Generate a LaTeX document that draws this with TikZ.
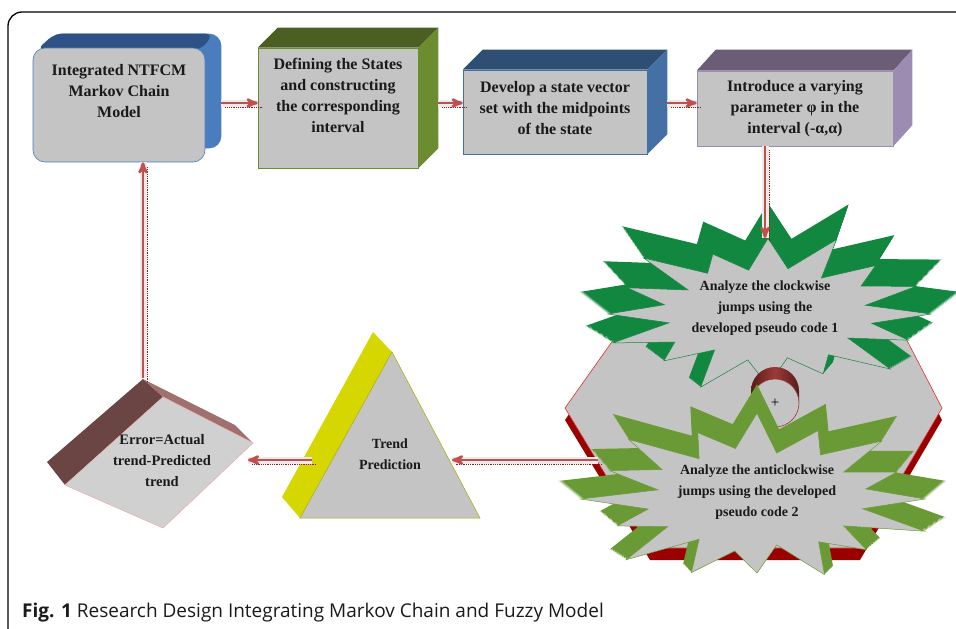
\documentclass[tikz,border=0pt]{standalone}
\usepackage{fontspec}
\setmainfont{Liberation Serif}
\newfontfamily\capfont{Open Sans}
\usepackage{tikz}
\usetikzlibrary{arrows}
\usetikzlibrary{positioning}
\usetikzlibrary{backgrounds}

\definecolor{facegray}{HTML}{C4C4C4}
\definecolor{inkblack}{HTML}{1A1A1A}
\definecolor{flowred}{HTML}{C0504D}
\definecolor{shadowred}{HTML}{8B1A1A}
\definecolor{glowgray}{HTML}{EBEBEB}
\definecolor{ntfcmtop}{HTML}{2E5186}
\definecolor{ntfcmside}{HTML}{4A7DBD}
\definecolor{statetop}{HTML}{4B5F22}
\definecolor{stateside}{HTML}{6B8C2F}
\definecolor{vectortop}{HTML}{2F4E73}
\definecolor{vectorside}{HTML}{4570A6}
\definecolor{paramtop}{HTML}{6B5D75}
\definecolor{paramside}{HTML}{9D8CB2}
\definecolor{cwgreen}{HTML}{12873F}
\definecolor{acwgreen}{HTML}{6A9A35}
\definecolor{hexred}{HTML}{E03030}
\definecolor{hexdark}{HTML}{9B0000}
\definecolor{cyldark}{HTML}{5C1A1A}
\definecolor{cylmid}{HTML}{9A3A3A}
\definecolor{triyellow}{HTML}{D6D600}
\definecolor{errband}{HTML}{6B4444}
\definecolor{errtop}{HTML}{A07070}
\definecolor{errface}{HTML}{D0D0D0}
\definecolor{errline}{HTML}{E8B0B0}

% star outlines: angle/radius factor
\def\cwburst{0/1.02, 11.25/0.66, 22.5/0.95, 33.75/0.6, 45/1.08, 56.25/0.68, 67.5/0.9, 78.75/0.62, 90/1.0, 101.25/0.65, 112.5/1.1, 123.75/0.6, 135/0.92, 146.25/0.7, 157.5/1.05, 168.75/0.63, 180/1.0, 191.25/0.66, 202.5/0.95, 213.75/0.6, 225/1.1, 236.25/0.68, 247.5/0.9, 258.75/0.62, 270/1.05, 281.25/0.64, 292.5/1.12, 303.75/0.6, 315/0.95, 326.25/0.7, 337.5/1.0, 348.75/0.62}
\def\acwburst{0/1.0, 11.25/0.64, 22.5/1.08, 33.75/0.62, 45/0.92, 56.25/0.66, 67.5/1.05, 78.75/0.6, 90/0.95, 101.25/0.68, 112.5/1.02, 123.75/0.62, 135/1.1, 146.25/0.64, 157.5/0.9, 168.75/0.66, 180/1.05, 191.25/0.6, 202.5/0.95, 213.75/0.68, 225/1.08, 236.25/0.62, 247.5/0.92, 258.75/0.66, 270/1.1, 281.25/0.6, 292.5/0.95, 303.75/0.68, 315/1.05, 326.25/0.62, 337.5/0.9, 348.75/0.66}

\tikzset{
	face/.style={draw=#1, fill=facegray, line width=0.6pt, inner sep=0pt},
	boxtext/.style={align=center, font=\bfseries\fontsize{16}{21}\selectfont, text=inkblack, inner sep=1pt},
	shapetext/.style={align=center, font=\bfseries\fontsize{14}{21}\selectfont, text=inkblack, inner sep=1pt},
	flow/.style={->, draw=flowred, line width=2.6pt,
		preaction={draw=glowgray, line width=7pt, -},
		preaction={draw=shadowred, densely dotted, line width=0.8pt, -, transform canvas={shift={(4pt,-4pt)}}}},
}

\begin{document}
\begin{tikzpicture}[x=1pt,y=-1pt,>=stealth']
	\useasboundingbox (0,0) rectangle (956,629);
	\draw[line width=1.3pt, rounded corners=14pt] (975,12) -- (8,12) -- (8,650);

	% top row of boxes
	\node[face=ntfcmside, rounded corners=12pt, minimum width=172, minimum height=114] (ntfcm) at (119,105) {};
	\begin{scope}[on background layer]
		\fill[ntfcmside, rounded corners=12pt] ([shift={(16,-14)}]ntfcm.north west) rectangle ([shift={(16,-14)}]ntfcm.south east);
		\fill[ntfcmtop, rounded corners=8pt] ([xshift=4pt,yshift=-2pt]ntfcm.north west) -- ([shift={(22,-14)}]ntfcm.north west) -- ([shift={(8,-14)}]ntfcm.north east) -- ([xshift=-4pt,yshift=-2pt]ntfcm.north east) -- cycle;
	\end{scope}
	\node[boxtext, below=15pt of ntfcm.north] (ntfcmtext) {Integrated NTFCM\\Markov Chain\\Model};

	\node[face=stateside, minimum width=160, minimum height=120] (states) at (338,108) {};
	\fill[statetop] (states.north west) -- ([shift={(20,-20)}]states.north west) -- ([shift={(20,-20)}]states.north east) -- (states.north east) -- cycle;
	\fill[stateside] (states.north east) -- ([shift={(20,-20)}]states.north east) -- ([shift={(20,-20)}]states.south east) -- (states.south east) -- cycle;
	\node[boxtext, below=9pt of states.north] (statestext) {Defining the States\\and constructing\\the corresponding\\interval};

	\node[face=vectorside, minimum width=184, minimum height=84] (vector) at (555,112) {};
	\fill[vectortop] (vector.north west) -- ([shift={(20,-20)}]vector.north west) -- ([shift={(20,-20)}]vector.north east) -- (vector.north east) -- cycle;
	\fill[vectorside] (vector.north east) -- ([shift={(20,-20)}]vector.north east) -- ([shift={(20,-20)}]vector.south east) -- (vector.south east) -- cycle;
	\node[boxtext, below=10pt of vector.north] (vectortext) {Develop a state vector\\set with the midpoints\\of the state};

	\node[face=paramside, minimum width=196, minimum height=75] (param) at (795,108.5) {};
	\fill[paramtop] (param.north west) -- ([shift={(19,-21)}]param.north west) -- ([shift={(19,-21)}]param.north east) -- (param.north east) -- cycle;
	\fill[paramside] (param.north east) -- ([shift={(19,-21)}]param.north east) -- ([shift={(19,-21)}]param.south east) -- (param.south east) -- cycle;
	\node[boxtext, below=8pt of param.north] (paramtext) {Introduce a varying\\parameter φ in the\\interval (-α,α)};

	% hexagon behind the two stars
	\fill[hexdark] (565,420) -- (643,310) -- (885,310) -- (942,420) -- (860,560) -- (650,560) -- cycle;
	\filldraw[fill=facegray, draw=hexred, line width=0.6pt] (565,408) -- (643,298) -- (885,298) -- (942,408) -- (860,548) -- (650,548) -- cycle;

	% clockwise star
	\coordinate (cwc) at (768,314);
	\foreach \d in {22,21,...,1}
		\fill[cwgreen, shift={(cwc)}, yshift=\d pt, scale={1+0.008*\d}]
			(163.2,0) \foreach \a/\f in \cwburst {-- ({160*\f*cos(\a)},{72*\f*sin(\a)})} -- cycle;
	\filldraw[fill=facegray, draw=cwgreen, line width=0.5pt, shift={(cwc)}]
		(163.2,0) \foreach \a/\f in \cwburst {-- ({160*\f*cos(\a)},{72*\f*sin(\a)})} -- cycle;

	% summing junction
	\shade[left color=cyldark, right color=cyldark, middle color=cylmid] (751,403) -- (751,391) arc (180:360:24) -- (799,403) -- cycle;
	\node[circle, fill=facegray, draw=cylmid, line width=0.6pt, minimum size=48, inner sep=0pt, font=\fontsize{15}{15}\selectfont] (sum) at (775,403) {+};

	% anticlockwise star
	\coordinate (acwc) at (757,499);
	\foreach \d in {18,17,...,1}
		\fill[acwgreen, shift={(acwc)}, yshift=\d pt, scale={1+0.007*\d}]
			(168,0) \foreach \a/\f in \acwburst {-- ({168*\f*cos(\a)},{78*\f*sin(\a)})} -- cycle;
	\filldraw[fill=facegray, draw=acwgreen, line width=0.5pt, shift={(acwc)}]
		(168,0) \foreach \a/\f in \acwburst {-- ({168*\f*cos(\a)},{78*\f*sin(\a)})} -- cycle;

	\node[shapetext] (cw) at (765,308) {Analyze the clockwise\\jumps using the\\developed pseudo code 1};
	\node[shapetext] (acw) at (757,492) {Analyze the anticlockwise\\jumps using the developed\\pseudo code 2};

	% trend triangle
	\fill[triyellow] (373,332) -- (392,352) -- (300,518) -- (282,497) -- cycle;
	\filldraw[fill=facegray, draw=triyellow!80!black, line width=0.5pt] (392,352) -- (480,518) -- (300,518) -- cycle;
	\node[shapetext] (trend) at (390,454) {Trend\\Prediction};

	% error block
	\fill[errband] (143,379) -- (163,397) -- (65,485) -- (47,462) -- cycle;
	\fill[errtop] (143,379) -- (235,425) -- (253,443) -- (163,397) -- cycle;
	\filldraw[fill=errface, draw=errline, line width=0.6pt] (163,397) -- (253,443) -- (163,528) -- (65,485) -- cycle;
	\node[shapetext, font=\bfseries\fontsize{14.5}{21}\selectfont] (err) at (162,461) {Error=Actual\\trend-Predicted\\trend};

	\coordinate (cwT) at (765,238);
	\coordinate (acwL) at (598,460);
	\coordinate (trendR) at (452,460);
	\coordinate (trendL) at (312,460);
	\coordinate (errR) at (248,460);
	\coordinate (errT) at (143,378);

	\draw[flow] ([xshift=16pt,yshift=2pt]ntfcm.east) -- ([yshift=5pt]states.west);
	\draw[flow] ([xshift=20pt,yshift=5pt]states.east) -- ([yshift=9pt]vector.west);
	\draw[flow] ([xshift=20pt,yshift=9pt]vector.east) -- ([yshift=5.5pt]param.west);
	\draw[flow] ([xshift=-30pt]param.south) -- (cwT);
	\draw[flow] (acwL) -- (trendR);
	\draw[flow] (trendL) -- (errR);
	\draw[flow] (errT) -- ([xshift=24pt]ntfcm.south);

	\node[anchor=base west, inner sep=0pt, text=inkblack, font=\capfont\fontsize{19}{19}\selectfont] (caption) at (22,617) {\textbf{Fig. 1} Research Design Integrating Markov Chain and Fuzzy Model};
\end{tikzpicture}
\end{document}
